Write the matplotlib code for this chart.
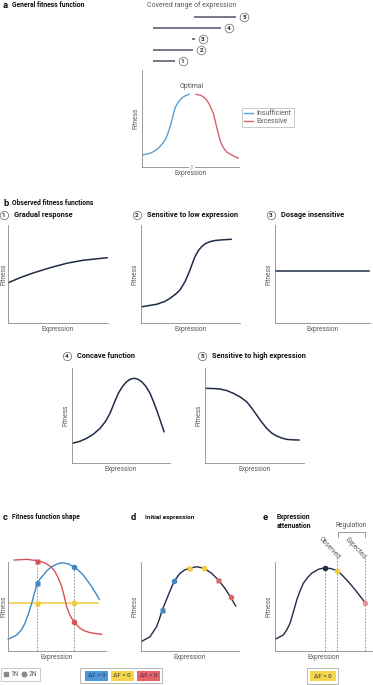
import matplotlib
matplotlib.use('Agg')
import matplotlib.pyplot as plt
from matplotlib.lines import Line2D
from matplotlib.patches import Rectangle

# ---------------- data (percent of each panel's axis extent) ----------------
a_blue_x = [0, 6, 11.3, 16.5, 21.6, 24.5, 26.8, 29, 30.9, 32.5, 34.0, 36.5, 39.2, 41.5, 44.3, 48.5]
a_blue_y = [12.4, 13.5, 15.5, 19, 24.7, 29, 35.1, 41.5, 48.5, 55, 60.8, 65.5, 69.1, 71.5, 73.2, 74.9]
a_red_x = [55.7, 60, 63.2, 66.7, 69.5, 71.5, 73.5, 75.2, 76.9, 78.7, 80.4, 83, 85.6, 88, 90.7, 95, 100]
a_red_y = [74.9, 74, 72.5, 69.1, 64.5, 60, 55.4, 48.5, 41.6, 34.5, 27.8, 21.5, 17.5, 15, 13.4, 11, 8.9]
range_ids = [1, 2, 3, 4, 5]
range_lo = [11.0, 11.0, 51.2, 11.7, 53.9]
range_hi = [33.7, 52.9, 54.6, 81.4, 97.2]
range_labels = ['Insufficient', 'Excessive']

b1_x = [0, 12, 25, 42, 59, 75, 99]
b1_y = [41, 46.2, 51, 56.4, 61, 64, 66.6]
b2_x = [0.7, 15.9, 24, 29.3, 35, 39.4, 44.4, 47, 49.5, 52, 54.5, 58, 61.3, 65, 69.7, 75, 79.8, 91]
b2_y = [16.6, 19.1, 22, 25.2, 29.5, 33.7, 42.1, 48, 54.1, 61, 67.7, 74, 77.9, 81, 83.0, 84.2, 84.7, 85.4]
b3_x = [0, 99]
b3_y = [53, 53]
b4_x = [0, 8, 15, 22, 28.6, 34, 38.8, 43, 47.3, 51.5, 55.8, 59.5, 63.3, 67, 71.1, 75.5, 79.6, 83, 86.4, 90, 93.9]
b4_y = [20.7, 22.8, 26, 30.5, 36.5, 43.5, 52.3, 63, 73.4, 80.5, 85.6, 88.2, 89.2, 88.3, 85.6, 80.5, 73.4, 65, 55.8, 45, 33]
b5_x = [0.3, 8, 15.2, 22, 28.6, 35.5, 42.1, 47.2, 52.2, 57.2, 62.3, 67.4, 72.4, 77.5, 82.5, 88.5, 94.9]
b5_y = [78.6, 78.4, 77.9, 76.2, 73.4, 69.5, 64.5, 57.8, 50.5, 43.2, 36.5, 31.5, 28.4, 26.3, 24.9, 24.4, 24.2]
b_titles = ['Gradual response', 'Sensitive to low expression', 'Dosage insensitive',
            'Concave function', 'Sensitive to high expression']

c_red_x = [6.4, 19.1, 29.9, 35, 39.5, 44, 48, 51.5, 54.8, 57.5, 59.9, 62.5, 65, 69, 73.5, 78.5, 83.7, 90, 95.6]
c_red_y = [102.2, 103, 101.5, 100, 97.8, 94.5, 89.2, 81.5, 72.3, 61, 49.8, 42, 36.7, 30.5, 25.5, 22.5, 20.6, 19.5, 18.8]
c_blue_x = [0.3, 8.9, 13.5, 17.3, 20.8, 24.2, 27, 29.9, 33, 36, 40, 44.6, 49.5, 54.8, 61, 67.3, 72, 76.8, 81, 85.4, 89.5, 93.2]
c_blue_y = [13.2, 18, 23.5, 31.1, 41.5, 53.6, 65.5, 76.1, 81.5, 85.4, 90.5, 94.7, 97.5, 99.2, 98, 94.7, 90.5, 85.4, 79, 72.3, 65, 58.1]
c_yel_x = [1, 91.8]
c_yel_y = [53.9, 53.9]
c_expr = [29.9, 67.3]          # 1N, 2N expression
c_red_pts = [101.5, 33]
c_blue_pts = [76.1, 94.7]
c_yel_pts = [53.9, 53.9]

d_x = [0, 9.2, 15.9, 18.8, 21.7, 27.9, 33.7, 39.8, 44.5, 49.3, 56.8, 64.3, 72.1, 78.9, 85.7, 91.5, 96.6]
d_y = [10.4, 16, 27.3, 36, 46.1, 62.9, 78.3, 87.3, 91, 92.9, 94.7, 92.9, 87.3, 79.8, 70.4, 60.3, 50.6]
d_blue = ([21.7, 33.7], [46.1, 78.3])
d_yel = ([49.3, 64.3], [92.9, 92.9])
d_red = ([78.9, 91.5], [79.8, 60.3])

e_x = [0, 8.6, 12, 15.5, 19, 22.4, 25.8, 29.2, 33.5, 37.8, 44.7, 51.5, 58, 64.2, 69, 73.9, 79, 84.2, 88.5, 92.8]
e_y = [13.1, 18, 23.5, 31.1, 44, 57.3, 67.5, 76.1, 82.5, 87.3, 91.8, 93.6, 92.5, 90.2, 85.5, 79.8, 73.5, 66.6, 60.5, 54.3]
e_obs = (51.5, 93.6)
e_reg = (64.2, 90.2)
e_exp = (92.8, 54.3)

dF_labels = ['\u0394F > 0', '\u0394F = 0', '\u0394F < 0']

# ---------------- style ----------------
W, H = 373, 685
plt.rcParams['font.family'] = ['Roboto', 'DejaVu Sans']
NAVY = '#1f2b47'
BLUE = '#3f88c5'
RED = '#d9505a'
YEL = '#f0cb3a'
BLUE_A = '#5b9fcf'
RED_A = '#d4646b'
PINK = '#e8939b'
AXC = '#8a8a8a'
TXT = '#5a5a5a'
LAB = 4.8

fig = plt.figure(figsize=(W / 100, H / 100), dpi=100)
ov = fig.add_axes([0, 0, 1, 1])
ov.set_xlim(0, W)
ov.set_ylim(H, 0)
ov.axis('off')
ov.patch.set_alpha(0)


def px_axes(l, t, r, b, ypad=1.6):
    ax = fig.add_axes([l / W, 1 - b / H, (r - l) / W, (b - t) / H])
    ax.set_xlim(0, 100)
    ax.set_ylim(0, 100)
    ax.patch.set_alpha(0)
    for s in ['top', 'right']:
        ax.spines[s].set_visible(False)
    for s in ['left', 'bottom']:
        ax.spines[s].set_color(AXC)
        ax.spines[s].set_linewidth(0.6)
    ax.set_xticks([])
    ax.set_yticks([])
    ax.set_xlabel('Expression', fontsize=LAB, color=TXT, labelpad=2)
    ax.set_ylabel('Fitness', fontsize=LAB, color=TXT, labelpad=ypad)
    return ax


def circ_num(ax, x, y, n, ms=6.2, fs=4.6):
    ax.plot([x], [y], marker='o', ms=ms, mfc='white', mec='#7a7a7a', mew=0.6,
            clip_on=False, zorder=5)
    ax.text(x, y, str(n), ha='center', va='center_baseline', fontsize=fs,
            fontweight='bold', color=NAVY, zorder=6)


def label(x, y, letter, title, fs=4.9):
    ov.text(x, y, letter, ha='left', va='center', fontsize=6.8, fontweight='bold', color='#111')
    ov.text(x + 9, y, title, ha='left', va='center', fontsize=fs, fontweight='bold', color='#111')


# ---------------- panel a ----------------
label(3, 5, 'a', 'General fitness function')
ov.text(192, 5, 'Covered range of expression', ha='center', va='center', fontsize=5, color=TXT)

ax_r = fig.add_axes([142 / W, 1 - 67 / H, 97 / W, 56 / H])
ax_r.set_xlim(0, 100)
ax_r.set_ylim(0.5, 5.5)
ax_r.axis('off')
ax_r.patch.set_alpha(0)
for i, lo, hi in zip(range_ids, range_lo, range_hi):
    ax_r.plot([lo, hi], [i, i], color='#4e5566', lw=1.1, solid_capstyle='butt')
    circ_num(ax_r, hi + 8.3, i, i)

ax_a = px_axes(142, 70, 239, 167)
la1, = ax_a.plot(a_blue_x, a_blue_y, color=BLUE_A, lw=1.0)
la2, = ax_a.plot(a_red_x, a_red_y, color=RED_A, lw=1.0)
ax_a.text(51.5, 82.5, 'Optimal', ha='center', va='center', fontsize=5, color=TXT)
ax_a.text(51.5, 0, '//', ha='center', va='center', fontsize=4.2, color=AXC,
          bbox=dict(fc='white', ec='none', pad=0.3), clip_on=False)
leg = ax_a.legend(handles=[la1, la2], labels=range_labels, loc='upper left',
                  bbox_to_anchor=(242 / W, 1 - 107.5 / H), bbox_transform=fig.transFigure,
                  fontsize=5, frameon=True, fancybox=False, edgecolor='#a0a0a0',
                  handlelength=1.3, handletextpad=0.4, borderpad=0.35, labelspacing=0.15,
                  borderaxespad=0)
leg.get_frame().set_linewidth(0.5)
for t in leg.get_texts():
    t.set_color(TXT)

# ---------------- panel b ----------------
label(3, 203, 'b', 'Observed fitness functions')
b_axes = [(8, 225, 108, 323), (141, 225, 240, 323), (275, 225, 370, 323),
          (72, 368, 170, 463), (205, 368, 304, 463)]
b_title_pos = [(3.5, 215), (137, 215), (271, 215), (67, 356), (202, 356)]
b_data = [(b1_x, b1_y), (b2_x, b2_y), (b3_x, b3_y), (b4_x, b4_y), (b5_x, b5_y)]
for k, (pos, tp, (xs, ys), title) in enumerate(zip(b_axes, b_title_pos, b_data, b_titles)):
    ax = px_axes(*pos, ypad=(0.6 if k == 0 else 1.6))
    ax.plot(xs, ys, color=NAVY, lw=1.1)
    circ_num(ov, tp[0], tp[1], k + 1, ms=6.0, fs=4.5)
    ov.text(tp[0] + 10, tp[1], title, ha='left', va='center', fontsize=5.3,
            fontweight='bold', color='#111')

# ---------------- panel c ----------------
label(3, 517, 'c', 'Fitness function shape', fs=4.8)
ax_c = px_axes(8, 562, 106, 651, ypad=0.6)
for xe, top in zip(c_expr, [max(c_red_pts[0], c_blue_pts[0]), max(c_blue_pts[1], c_red_pts[1])]):
    ax_c.plot([xe, xe], [0, top], color='#8a8a8a', lw=0.6, ls=(0, (2.2, 1.6)), clip_on=False)
ax_c.plot(c_yel_x, c_yel_y, color=YEL, lw=1.1, clip_on=False)
ax_c.plot(c_red_x, c_red_y, color=RED, lw=1.0, clip_on=False)
ax_c.plot(c_blue_x, c_blue_y, color=BLUE, lw=1.0, clip_on=False)
for vals, col in [(c_red_pts, RED), (c_blue_pts, BLUE), (c_yel_pts, YEL)]:
    ax_c.plot([c_expr[0]], [vals[0]], marker='s', ms=3.6, color=col, mec='none', clip_on=False, zorder=5)
    ax_c.plot([c_expr[1]], [vals[1]], marker='o', ms=4.0, color=col, mec='none', clip_on=False, zorder=5)

lc = ax_c.legend(handles=[Line2D([], [], ls='none', marker='s', ms=3, color='#8a8a8a'),
                          Line2D([], [], ls='none', marker='o', ms=3.3, color='#8a8a8a')],
                 labels=['1N', '2N'], ncol=2, loc='upper left',
                 bbox_to_anchor=(1 / W, 1 - 668 / H), bbox_transform=fig.transFigure,
                 fontsize=4.8, frameon=True, fancybox=False, edgecolor='#a0a0a0',
                 handlelength=0.6, handletextpad=0.3, columnspacing=0.6, borderpad=0.45,
                 borderaxespad=0)
lc.get_frame().set_linewidth(0.5)
for t in lc.get_texts():
    t.set_color(TXT)

# Delta F legend
ov.add_patch(Rectangle((80, 668), 82, 15, fc='white', ec='#a0a0a0', lw=0.5))
for x0, col, txt in zip([85, 111, 137], ['#4d97d8', '#f5d54c', '#e46268'], dF_labels):
    ov.add_patch(Rectangle((x0, 671), 22.5, 9.5, fc=col, ec='none'))
    ov.text(x0 + 11.25, 675.9, txt, ha='center', va='center', fontsize=4.4, color='#2a3550')

# ---------------- panel d ----------------
ov.text(131, 517, 'd', ha='left', va='center', fontsize=6.8, fontweight='bold', color='#111')
ov.text(145, 517.5, 'Initial expression', ha='left', va='center', fontsize=4.6, fontweight='bold', color='#111')
ax_d = px_axes(141, 562, 239, 651)
ax_d.plot(d_x, d_y, color=NAVY, lw=1.0)
for (xs, ys), col in [(d_blue, BLUE), (d_yel, YEL), (d_red, '#d9656d')]:
    ax_d.plot([xs[0]], [ys[0]], marker='s', ms=3.6, color=col, mec='none', zorder=5)
    ax_d.plot([xs[1]], [ys[1]], marker='o', ms=4.0, color=col, mec='none', zorder=5)

# ---------------- panel e ----------------
ov.text(263, 517, 'e', ha='left', va='center', fontsize=6.8, fontweight='bold', color='#111')
ov.text(277, 517, 'Expression', ha='left', va='center', fontsize=4.9, fontweight='bold', color='#111')
ov.text(277, 525.5, 'attenuation', ha='left', va='center', fontsize=4.9, fontweight='bold', color='#111')
ax_e = px_axes(275, 562, 372, 651)
ax_e.plot([e_obs[0]] * 2, [0, e_obs[1]], color='#8a8a8a', lw=0.6, ls=(0, (2.2, 1.6)), clip_on=False)
ax_e.plot([e_reg[0]] * 2, [0, 104], color='#8a8a8a', lw=0.6, ls=(0, (2.2, 1.6)), clip_on=False)
ax_e.plot([e_exp[0]] * 2, [0, 104], color='#8a8a8a', lw=0.6, ls=(0, (2.2, 1.6)), clip_on=False)
ax_e.plot(e_x, e_y, color=NAVY, lw=1.0)
ax_e.plot([e_obs[0]], [e_obs[1]], marker='o', ms=4.0, color=NAVY, mec='none', zorder=5)
ax_e.plot([e_reg[0]], [e_reg[1]], marker='o', ms=4.0, color=YEL, mec='none', zorder=5)
ax_e.plot([e_exp[0]], [e_exp[1]], marker='o', ms=4.0, color=PINK, mec='none', zorder=5, clip_on=False)
ov.text(329.5, 548, 'Observed', ha='center', va='center', rotation=-47, fontsize=4.8, color=TXT)
ov.text(355, 548, 'Expected', ha='center', va='center', rotation=-47, fontsize=4.8, color=TXT)
ov.text(351, 525.5, 'Regulation', ha='center', va='center', fontsize=4.8, color=TXT)
ov.plot([338, 338, 365, 365], [537, 532, 532, 537], color='#8a8a8a', lw=0.6)
ov.add_patch(Rectangle((307, 668), 31, 16, fc='white', ec='#a0a0a0', lw=0.5))
ov.add_patch(Rectangle((309.5, 671), 26, 10, fc='#f5d54c', ec='none'))
ov.text(322.5, 676, dF_labels[1], ha='center', va='center', fontsize=4.4, color='#2a3550')

fig.savefig('out.png', dpi=100)
